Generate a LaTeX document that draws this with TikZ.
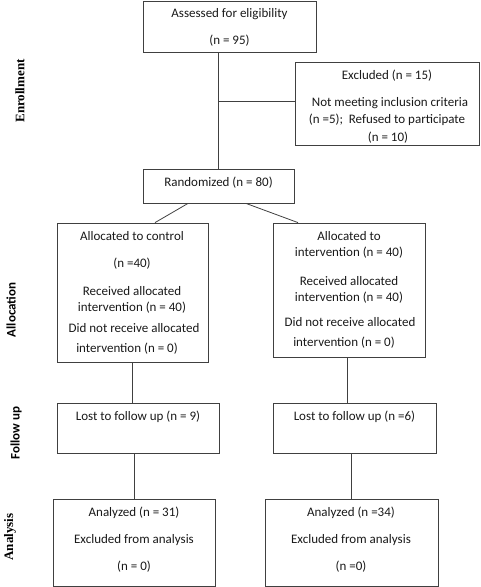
\documentclass[tikz,border=0pt]{standalone}
\usepackage{fontspec}
\setmainfont{Carlito}
\newfontfamily\serifbold{Liberation Serif}
\begin{document}
\begin{tikzpicture}[x=1pt,y=-1pt,
  box/.style={draw=black!75, line width=0.8pt, rectangle, inner sep=0pt},
  ln/.style={draw=black!75, line width=0.8pt},
  txt/.style={inner sep=0pt, font=\fontsize{13}{15}\selectfont, text=black!90, anchor=center},
  side/.style={inner sep=0pt, rotate=90, font=\fontsize{13}{15}\selectfont\bfseries, anchor=center}]
\useasboundingbox (0,0) rectangle (480,587);
% boxes
\node[box, minimum width=173pt, minimum height=51pt] (assessed) at (229.5,26.5) {};
\node[box, minimum width=184pt, minimum height=83pt] (excluded) at (387,103.5) {};
\node[box, minimum width=151pt, minimum height=34pt] (random) at (218.5,186) {};
\node[box, minimum width=151pt, minimum height=139pt] (control) at (132.5,292.5) {};
\node[box, minimum width=152pt, minimum height=134pt] (interv) at (349,290) {};
\node[box, minimum width=162pt, minimum height=50pt] (lostL) at (138,428) {};
\node[box, minimum width=163pt, minimum height=50pt] (lostR) at (354.5,428) {};
\node[box, minimum width=162pt, minimum height=87pt] (anL) at (134,542.5) {};
\node[box, minimum width=173pt, minimum height=87pt] (anR) at (351.5,542.5) {};
% texts
\node[txt] (t1) at (229.5,14) {Assessed for eligibility};
\node[txt] (t2) at (229.5,41) {(n = 95)};
\node[txt] (t3) at (387,76) {Excluded (n = 15)};
\node[txt] (t4) at (390,103) {Not meeting inclusion criteria};
\node[txt] (t5) at (387,120) {(n =5);\ \ Refused to participate};
\node[txt] (t6) at (388,138) {(n = 10)};
\node[txt] (t7) at (218.5,183) {Randomized (n = 80)};
\node[txt] (t8) at (132,236) {Allocated to control};
\node[txt] (t9) at (132,264) {(n =40)};
\node[txt] (t10) at (132,291) {Received allocated};
\node[txt] (t11) at (132,308) {intervention (n = 40)};
\node[txt] (t12) at (134,328) {Did not receive allocated};
\node[txt] (t13) at (127,349) {intervention (n = 0)};
\node[txt] (t14) at (349,236) {Allocated to};
\node[txt] (t15) at (349,253) {intervention (n = 40)};
\node[txt] (t16) at (349,281) {Received allocated};
\node[txt] (t17) at (349,298) {intervention (n = 40)};
\node[txt] (t18) at (350,322) {Did not receive allocated};
\node[txt] (t19) at (344,343) {intervention (n = 0)};
\node[txt] (t20) at (138,417) {Lost to follow up (n = 9)};
\node[txt] (t21) at (354.5,417) {Lost to follow up (n =6)};
\node[txt] (t22) at (134,513) {Analyzed (n = 31)};
\node[txt] (t23) at (134,540) {Excluded from analysis};
\node[txt] (t24) at (134,567) {(n = 0)};
\node[txt] (t25) at (351,513) {Analyzed (n =34)};
\node[txt] (t26) at (351,540) {Excluded from analysis};
\node[txt] (t27) at (351,567) {(n =0)};
% side labels
\node[side, font=\fontsize{13}{15}\selectfont\serifbold\bfseries] (s1) at (20,91) {Enrollment};
\node[side] (s2) at (11,310) {Allocation};
\node[side] (s3) at (16,433) {Follow up};
\node[side, font=\fontsize{13}{15}\selectfont\serifbold\bfseries] (s4) at (10,537) {Analysis};
% connectors
\draw[ln] (assessed.south -| random.north) -- (random.north);
\draw[ln] ([yshift=2.5pt]excluded.west) -- ([yshift=2.5pt]excluded.west -| random.north);
\draw[ln] ([xshift=-30.5pt]random.south) -- ([xshift=22.5pt]control.north);
\draw[ln] ([xshift=27.5pt]random.south) -- ([xshift=-51pt]interv.north);
\draw[ln] (control.south) -- (control.south |- lostL.north);
\draw[ln] ([xshift=-2pt]interv.south) -- ([xshift=-2pt]interv.south |- lostR.north);
\draw[ln] (anL.north |- lostL.south) -- (anL.north);
\draw[ln] (anR.north |- lostR.south) -- (anR.north);
\end{tikzpicture}
\end{document}
